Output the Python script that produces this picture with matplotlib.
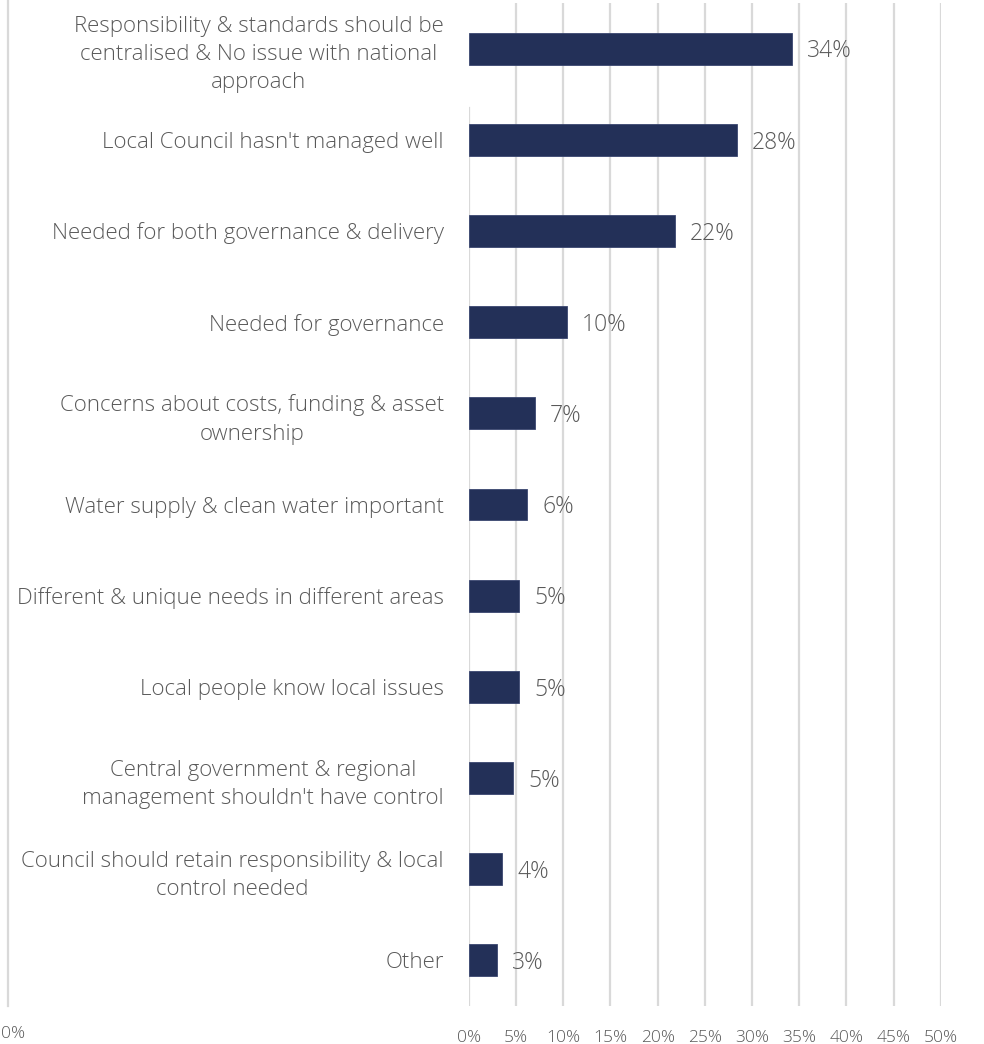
import matplotlib.pyplot as plt
from matplotlib.lines import Line2D

plt.rcParams['font.family'] = ['Open Sans', 'DejaVu Sans']

# categories top to bottom
reasons = [
    "Responsibility & standards should be\ncentralised & No issue with national\napproach",
    "Local Council hasn't managed well",
    "Needed for both governance & delivery",
    "Needed for governance",
    "Concerns about costs, funding & asset\nownership",
    "Water supply & clean water important",
    "Different & unique needs in different areas",
    "Local people know local issues",
    "Central government & regional\nmanagement shouldn't have control",
    "Council should retain responsibility & local\ncontrol needed",
    "Other",
]
shares = [34.2, 28.4, 21.8, 10.4, 7.0, 6.2, 5.3, 5.3, 4.7, 3.5, 3.0]
share_labels = ["34%", "28%", "22%", "10%", "7%", "6%", "5%", "5%", "5%", "4%", "3%"]
ticks = [0, 5, 10, 15, 20, 25, 30, 35, 40, 45, 50]

navy = '#233058'
grey_txt = '#595959'
grid_col = '#d9d9d9'

fig = plt.figure(figsize=(9.84, 10.44), dpi=100)
ax = fig.add_axes([468.8 / 984, 38 / 1044, 472 / 984, 1003 / 1044])

# gridlines (the 0% one starts below the first bar like in the original)
for t in ticks:
    if t == 0:
        ax.axvline(t, ymin=0, ymax=1 - 105 / 1003, color=grid_col, lw=1.6, zorder=0)
    else:
        ax.axvline(t, color=grid_col, lw=1.6, zorder=0)

ypos = list(range(len(reasons)))
bars = ax.barh(ypos, shares, height=0.35, color=navy, edgecolor='#3a4670', linewidth=0.6, zorder=2)

for rect, lab in zip(bars, share_labels):
    ax.annotate(lab, (rect.get_width(), rect.get_y() + rect.get_height() / 2),
                xytext=(11, -2), textcoords='offset points', va='center', ha='left',
                fontsize=16.5, color=grey_txt, fontweight='light')

ax.set_xlim(0, 50)
ax.set_ylim(len(reasons) - 0.5, -0.5)
ax.set_xticks(ticks)
ax.set_xticklabels([f'{t}%' for t in ticks], fontsize=12.5, color=grey_txt, fontweight='light')
ax.set_yticks(ypos)
ax.set_yticklabels(reasons, fontsize=16, color=grey_txt, fontweight='light',
                   multialignment='center', linespacing=1.45)
ax.tick_params(axis='both', length=0)
ax.tick_params(axis='x', pad=17)
ax.tick_params(axis='y', pad=18)
for s in ax.spines.values():
    s.set_visible(False)

# stray axis at the far left of the original picture
fig.add_artist(Line2D([8 / 984, 8 / 984], [38 / 1044, 1], color=grid_col, lw=1.6))
fig.text(13 / 984, 1 - 1034 / 1044, '0%', fontsize=12.5, color=grey_txt, fontweight='light',
         ha='center', va='center')

plt.savefig('out.png', dpi=100)
